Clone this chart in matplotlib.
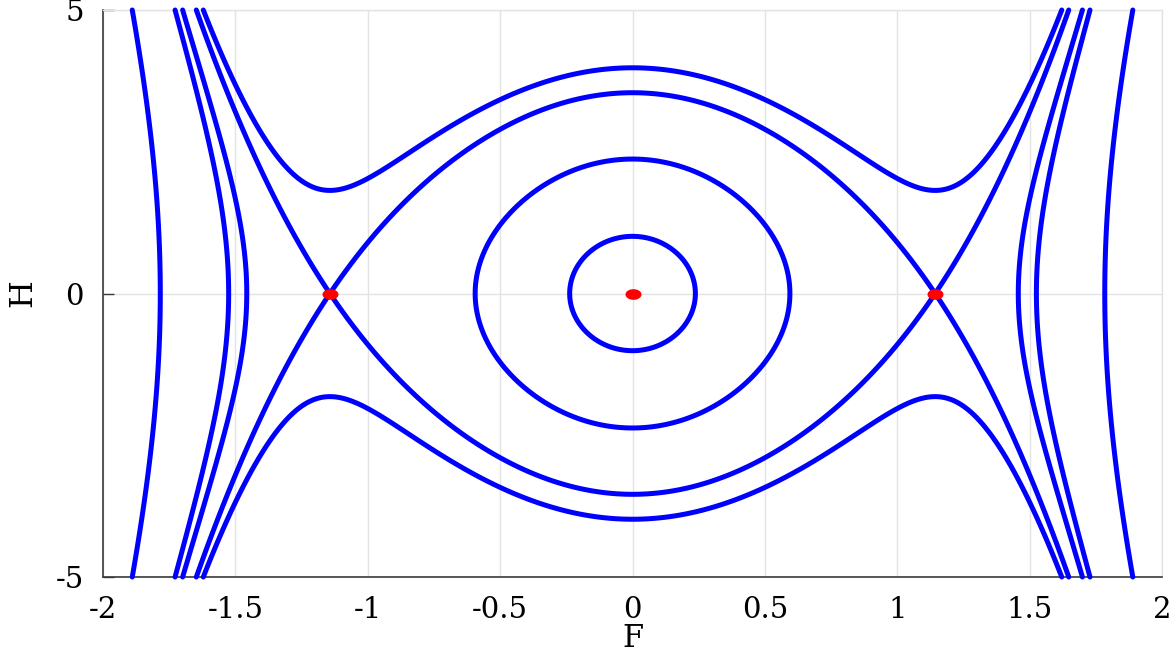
import numpy as np
import matplotlib
matplotlib.use("Agg")
import matplotlib.pyplot as plt
from matplotlib.path import Path

plt.rcParams['axes.unicode_minus'] = False
plt.rcParams['font.family'] = ['DejaVu Serif']

# conserved quantity  E = H^2/2 + sum c_k F^(2k)   (coefficients fitted to points)
pot_powers = [2, 4, 6, 8, 10]
pot_coefs = [9.2425, -3.9890, 1.2492, -0.7193, 0.0824]

# energy levels of the drawn orbits
closed_levels = [0.5083, 2.8117]          # orbits around the centre
outer_levels = [2.5370, 0.1790, -17.5806]  # open curves beyond the saddles
upper_levels = [7.9234]                    # curves passing above/below the saddles

# equilibria
eq_F = [-1.143, 0.0, 1.143]
eq_H = [0.0, 0.0, 0.0]

x_ticks = [-2, -1.5, -1, -0.5, 0, 0.5, 1, 1.5, 2]
x_ticklabels = ['-2', '-1.5', '-1', '-0.5', '0', '0.5', '1', '1.5', '2']
y_ticks = [-5, 0, 5]
y_ticklabels = ['-5', '0', '5']

fig = plt.figure(figsize=(11.72, 6.54), dpi=100)
ax = fig.add_axes([0.0879, 0.1177, 0.9036, 0.867])

F = np.linspace(-2, 2, 1601)
Hh = np.linspace(-5, 5, 1201)
FF, HH = np.meshgrid(F, Hh)
V = sum(c * FF ** p for c, p in zip(pot_coefs, pot_powers))
Z = HH ** 2 / 2 + V

Fs = eq_F[2]
sep_level = V[0][np.abs(F) <= 1.3].max()

kw = dict(colors='blue', linewidths=3.6, linestyles='solid')
sets = []
sets.append(ax.contour(FF, HH, np.ma.masked_where(np.abs(FF) > Fs, Z), levels=sorted(closed_levels), **kw))
sets.append(ax.contour(FF, HH, np.ma.masked_where(np.abs(FF) < Fs, Z), levels=sorted(outer_levels), **kw))
sets.append(ax.contour(FF, HH, Z, levels=sorted(upper_levels + [sep_level]), **kw))
for cs in sets:
    cs.set_capstyle('round')
    cs.set_joinstyle('round')
    cs.set_clip_on(False)
    cs.set_zorder(3)

t = np.linspace(0, 2 * np.pi, 60)
ell = Path(np.column_stack([1.5 * np.cos(t), np.sin(t)]))
ax.plot(eq_F, eq_H, linestyle='none', marker=ell, markersize=11.5,
        color='red', markeredgewidth=0, zorder=4, clip_on=False)

ax.set_xlim(-2, 2)
ax.set_ylim(-5, 5)
ax.set_xticks(x_ticks)
ax.set_xticklabels(x_ticklabels)
ax.set_yticks(y_ticks)
ax.set_yticklabels(y_ticklabels)
ax.grid(True, color='#e3e3e3', linewidth=1.0)
ax.set_axisbelow(True)
for s in ['top', 'right']:
    ax.spines[s].set_color('#e3e3e3')
    ax.spines[s].set_linewidth(1.0)
for s in ['left', 'bottom']:
    ax.spines[s].set_color('#3a3a3a')
    ax.spines[s].set_linewidth(1.2)
ax.tick_params(axis='y', direction='in', length=8, width=1.0, color='#3a3a3a',
               labelsize=21, pad=14)
ax.tick_params(axis='x', direction='in', length=0, labelsize=21, pad=14)
ax.set_xlabel('F', fontsize=22, labelpad=-1)
ax.set_ylabel('H', fontsize=23, labelpad=12)

fig.savefig("out.png")
